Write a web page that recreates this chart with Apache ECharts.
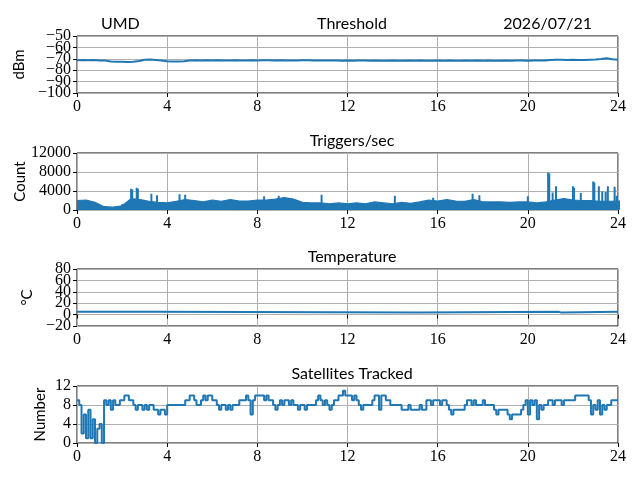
<!DOCTYPE html>
<html lang="en">
<head>
<meta charset="UTF-8">
<title>UMD daily monitor</title>
<script src="https://cdn.jsdelivr.net/npm/echarts@6/dist/echarts.min.js"></script>
<style>
  html, body { margin: 0; padding: 0; background: #fff; }
  #chart { width: 640px; height: 480px; }
</style>
</head>
<body>
<div id="chart"></div>
<script type="text/javascript">
  // ---- data ----
  var hourTicks = [0, 4, 8, 12, 16, 20, 24];

  // y tick labels of each panel
  var thresholdTicks = [-100, -90, -80, -70, -60, -50];
  var triggerTicks = [0, 4000, 8000, 12000];
  var tempTicks = [-20, 0, 20, 40, 60, 80];
  var satTicks = [0, 4, 8, 12];

  // threshold, dBm, every 0.25 h
  var thresholdStep = 0.25;
  var thresholdDbm = [
    -71.2,-71.0,-71.3,-71.1,-71.4,-71.6,-72.3,-72.6,-72.5,-72.7,-72.6,-72.0,
    -70.8,-70.6,-71.0,-71.5,-72.2,-72.4,-72.3,-72.1,-71.5,-71.3,-71.4,-71.2,
    -71.4,-71.3,-71.5,-71.4,-71.3,-71.4,-71.5,-71.3,-71.4,-71.2,-71.3,-71.4,
    -71.3,-71.4,-71.5,-71.4,-71.3,-71.2,-71.4,-71.5,-71.6,-71.5,-71.6,-71.7,
    -71.6,-71.7,-71.6,-71.5,-71.7,-71.6,-71.8,-71.7,-71.6,-71.7,-71.8,-71.6,
    -71.7,-71.6,-71.8,-71.7,-71.6,-71.7,-71.6,-71.8,-71.7,-71.6,-71.7,-71.6,
    -71.7,-71.6,-71.7,-71.8,-71.6,-71.7,-71.5,-71.6,-71.7,-71.5,-71.6,-71.4,
    -71.0,-70.9,-70.8,-71.0,-70.9,-71.1,-71.0,-70.8,-70.6,-70.2,-69.6,-70.3,
    -70.8
  ];

  // triggers/sec band edges, every 0.2 h
  var trigStep = 0.2;
  var trigHigh = [
    2400,2600,2300,1600,1500,1700,2700,2600,2300,2200,
    2000,2400,2600,2500,2300,2600,2400,2700,2500,2600,
    2700,2800,2900,3100,3000,2400,2200,2100,2000,2100,
    2000,2100,2000,2200,2100,2000,2200,2100,2300,2600,
    2500,2700,2600,2400,2700,2400,2300,2400,2200,2400,
    2300,2200,2500,2800,3000,2800,2600,2700,2600,2500,
    2600,2500,2400,2300,2400,2300,2200,2400,2300,2200,
    2400,2300,2000,1900,2000,1800,1900,1800,2000,2200,
    1900,2100,2300,2200,2500,2600,2400,2500,2700,2600,
    2400,2300,2200,2100,2200,2100,2300,2400,2600,2500,
    2700,2400,2500,2600,2700,2900,3000,2700,2600,2800,
    2900,3000,2700,2800,3000,3200,3300,3200,2900,2700,
    2600
  ];
  var trigLow = [
    400,500,700,900,900,800,300,400,500,600,
    500,600,400,500,600,500,600,500,600,700,
    600,700,600,500,700,800,700,600,700,600,
    700,600,700,500,600,700,600,700,600,500,
    600,500,700,600,500,700,600,700,600,700,
    600,700,800,700,600,700,600,700,800,700,
    700,600,700,800,700,600,700,800,700,600,
    500,700,800,900,800,900,800,900,800,700,
    800,700,600,700,600,500,600,700,600,500,
    600,700,600,700,800,700,600,700,600,500,
    600,500,600,500,400,500,400,500,600,500,
    500,400,500,400,300,400,500,400,500,600,
    600
  ];
  // narrow spikes [hour, count]
  var trigSpikes = [
    [2.4,4500],[2.45,4300],[2.65,4700],[2.7,4500],[3.3,3400],[3.55,3100],
    [4.55,3300],[4.8,3200],[8.3,2900],[8.95,3000],[10.85,3200],[14.1,3000],
    [15.8,2600],[17.55,3400],[17.85,3100],[20.0,2900],[20.9,7900],[20.95,7700],
    [21.1,3700],[21.25,5000],[22.0,5000],[22.05,4700],[22.35,3600],[22.9,6000],
    [22.95,5800],[23.15,5000],[23.3,3900],[23.45,3800],[23.55,5000],[23.85,4900],
    [23.95,3000]
  ];
  var trigDips = [[2.0,0],[7.0,100],[8.6,0],[14.1,0],[17.9,100],[21.3,100],[22.9,0]];

  // temperature, degC, breakpoints
  var tempHours = [0, 3.6, 15.2, 21.35, 21.5, 24];
  var tempValues = [5, 3.5, 5, 3.5, 5, 5];

  // satellites tracked, every 0.1 h
  var satStep = 0.1;
  var satCounts = [
    9,8,2,6,1,7,1,5,0,3,
    4,0,9,8,9,7,9,8,8,9,
    9,10,10,9,9,8,7,8,8,7,
    8,7,8,8,7,7,6,7,7,6,
    8,8,8,8,8,8,8,8,9,9,
    10,10,9,8,8,9,10,9,10,10,
    9,9,8,7,8,8,7,8,7,8,
    8,8,9,9,9,10,9,6,9,10,
    10,10,10,9,10,9,9,8,7,8,
    9,8,9,9,8,9,8,8,7,8,
    8,7,8,8,8,8,9,10,9,8,
    9,8,7,8,9,9,10,10,11,10,
    10,10,9,10,9,8,7,8,8,8,
    8,9,10,10,7,10,10,9,9,8,
    8,8,8,8,7,7,7,8,7,7,
    7,7,8,7,7,9,9,8,9,9,
    9,8,9,9,8,7,6,7,7,7,
    7,7,8,9,9,8,9,8,8,8,
    9,8,8,8,8,7,6,7,7,7,
    7,6,5,6,6,6,6,7,8,9,
    6,9,8,9,5,8,7,8,8,9,
    9,8,9,9,9,8,9,9,9,9,
    9,10,10,10,10,10,10,9,6,8,
    7,9,6,8,7,8,8,9,9,9,
    9
  ];

  // ---- build series data ----
  function byStep(values, step) {
    return values.map(function (v, i) { return [i * step, v]; });
  }
  var trigBase = byStep(trigLow, trigStep);
  var trigWidth = trigHigh.map(function (v, i) { return [i * trigStep, v - trigLow[i]]; });
  var trigLines = [];
  trigSpikes.forEach(function (s) { trigLines.push([s[0], 1500], s, [s[0], '-']); });
  trigDips.forEach(function (s) { trigLines.push([s[0], 1200], s, [s[0], '-']); });
  var tempData = tempHours.map(function (h, i) { return [h, tempValues[i]]; });

  var blue = '#1f77b4';
  var tops = [36, 153, 269, 386];
  var panelH = 57;
  var titles = ['Threshold', 'Triggers/sec', 'Temperature', 'Satellites Tracked'];
  var yNames = ['dBm', 'Count', '\u00b0C', 'Number'];
  var yGaps = [45, 49, 35, 29];
  var yTicks = [thresholdTicks, triggerTicks, tempTicks, satTicks];

  var serif = '"Liberation Serif", "DejaVu Serif", serif';
  var sans = 'Lato, "Liberation Sans", sans-serif';

  function minus(v) { return String(v).replace('-', '\u2212'); }

  var grids = [], xAxes = [], yAxes = [], yAxesAlt = [], titleList = [];
  tops.forEach(function (t, i) {
    var ticks = yTicks[i];
    var lo = ticks[0], hi = ticks[ticks.length - 1];
    // labels alternate over two stacked left axes so none get dropped for crowding
    var evenVals = ticks.filter(function (v, k) { return k % 2 === 0; });
    var oddVals = ticks.filter(function (v, k) { return k % 2 === 1; });

    grids.push({ left: 77, right: 22, top: t, height: panelH, show: true,
                 borderColor: '#000', borderWidth: 1, backgroundColor: 'transparent' });
    xAxes.push({
      type: 'value', gridIndex: i, min: 0, max: 24, interval: 4,
      axisLine: { show: false },
      axisTick: { show: true, length: 4, lineStyle: { color: '#000' } },
      axisLabel: { color: '#000', fontFamily: serif, fontSize: 16, margin: 6 },
      splitLine: { show: true, lineStyle: { color: '#b0b0b0', width: 1 } }
    });
    yAxes.push({
      type: 'value', gridIndex: i, position: 'left', min: lo, max: hi, interval: ticks[1] - ticks[0],
      name: yNames[i], nameLocation: 'middle', nameGap: yGaps[i],
      nameTextStyle: { color: '#000', fontFamily: sans, fontSize: 15 },
      axisLine: { show: false },
      axisTick: { show: true, length: 4, lineStyle: { color: '#000' } },
      axisLabel: { color: '#000', fontFamily: serif, fontSize: 16, margin: 6,
                   customValues: evenVals, formatter: minus },
      splitLine: { show: true, lineStyle: { color: '#b0b0b0', width: 1 } }
    });
    yAxesAlt.push({
      type: 'value', gridIndex: i, position: 'left', offset: 0, min: lo, max: hi,
      axisLine: { show: false },
      axisTick: { show: false },
      axisLabel: { color: '#000', fontFamily: serif, fontSize: 16, margin: 6,
                   customValues: oddVals, formatter: minus },
      splitLine: { show: false }
    });
    titleList.push({ text: titles[i], left: 347, top: t - 25, textAlign: 'center',
                     textStyle: { color: '#000', fontFamily: sans, fontSize: 16, fontWeight: 'normal' } });
  });
  titleList.push({ text: 'UMD', left: 96, top: 11,
                   textStyle: { color: '#000', fontFamily: sans, fontSize: 16, fontWeight: 'normal' } });
  titleList.push({ text: '2026/07/21', right: 43, top: 11,
                   textStyle: { color: '#000', fontFamily: sans, fontSize: 16, fontWeight: 'normal' } });

  var lineBase = { type: 'line', symbol: 'none', animation: false };

  var myChart = echarts.init(document.getElementById('chart'));
  myChart.setOption({
    backgroundColor: '#fff',
    title: titleList,
    grid: grids,
    xAxis: xAxes,
    yAxis: yAxes.concat(yAxesAlt),
    series: [
      Object.assign({}, lineBase, { xAxisIndex: 0, yAxisIndex: 0, data: byStep(thresholdDbm, thresholdStep),
        lineStyle: { color: blue, width: 2 } }),
      Object.assign({}, lineBase, { xAxisIndex: 1, yAxisIndex: 1, data: trigBase, stack: 'trig',
        lineStyle: { opacity: 0 } }),
      Object.assign({}, lineBase, { xAxisIndex: 1, yAxisIndex: 1, data: trigWidth, stack: 'trig',
        lineStyle: { color: blue, width: 1.2 }, areaStyle: { color: blue, opacity: 1 } }),
      Object.assign({}, lineBase, { xAxisIndex: 1, yAxisIndex: 1, data: trigLines,
        connectNulls: false, lineStyle: { color: blue, width: 2 } }),
      Object.assign({}, lineBase, { xAxisIndex: 2, yAxisIndex: 2, data: tempData, step: 'end',
        lineStyle: { color: blue, width: 2 } }),
      Object.assign({}, lineBase, { xAxisIndex: 3, yAxisIndex: 3, data: byStep(satCounts, satStep), step: 'end',
        lineStyle: { color: blue, width: 2 } })
    ]
  });
</script>
</body>
</html>
